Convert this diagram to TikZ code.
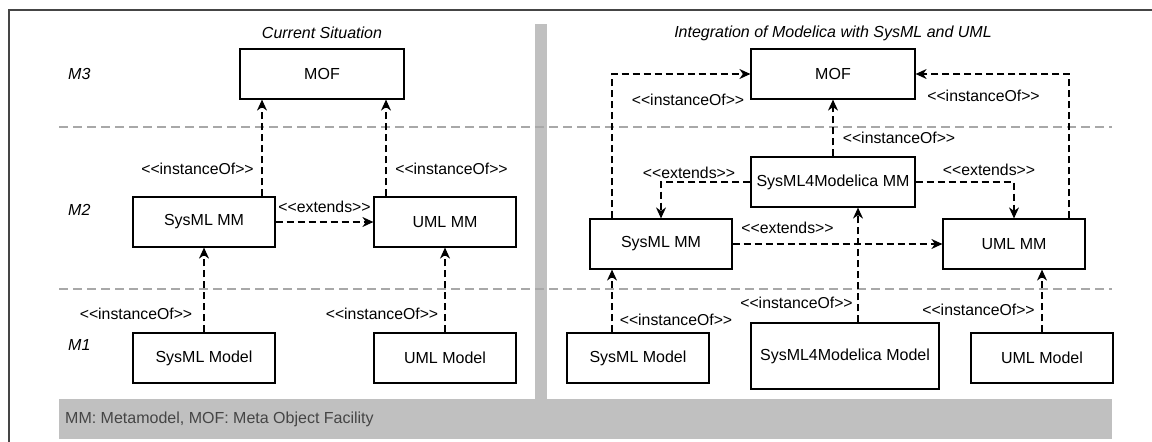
\documentclass[tikz,border=0pt]{standalone}
\usepackage{fontspec}
\newfontfamily\diafont{Liberation Sans}
\usetikzlibrary{arrows.meta}
\definecolor{bandgray}{HTML}{C0C0C0}
\definecolor{levelgray}{HTML}{A8A8A8}
\definecolor{framegray}{HTML}{454545}

\tikzset{
  mbox/.style={draw, line width=1.2pt, fill=white, inner sep=0pt,
    minimum width=142pt, minimum height=50pt,
    font=\diafont\fontsize{16}{19}\selectfont},
  stereo/.style={inner sep=0pt, font=\diafont\fontsize{15.8}{18}\selectfont},
  level/.style={inner sep=0pt, anchor=west, font=\diafont\itshape\fontsize{16}{19}\selectfont},
  dep/.style={line width=1.2pt, dash pattern=on 7pt off 4pt,
    -{Stealth[length=11pt,width=10pt,inset=3.5pt]}},
  levelline/.style={levelgray, line width=1.3pt, dash pattern=on 9pt off 5pt},
}

\begin{document}
\begin{tikzpicture}[x=1pt, y=-1pt]
    \useasboundingbox (0,0) rectangle (1152,442);

    % Frame, divider and legend band
    \draw[framegray, line width=1.6pt] (9,442) -- (9,10) -- (1152,10);
    \fill[bandgray] (535,24) rectangle (547,399);
    \fill[bandgray] (59,399) rectangle (1112,439);
    \node[anchor=west, inner sep=0pt, text=framegray,
      font=\diafont\fontsize{16}{19}\selectfont] (legend) at (65,419)
      {MM: Metamodel, MOF: Meta Object Facility};

    % Meta levels
    \draw[levelline] (59,127) -- (1112,127);
    \draw[levelline] (59,289) -- (1112,289);
    \node[level] (m3) at (68,74) {M3};
    \node[level] (m2) at (68,210) {M2};
    \node[level] (m1) at (68,345) {M1};

    % Titles
    \node[level, anchor=center] (titleL) at (322,33) {Current Situation};
    \node[level, anchor=center] (titleR) at (833,33) {Integration of Modelica with SysML and UML};

    % Current situation
    \node[mbox, minimum width=164pt] (mofL) at (322,74) {MOF};
    \node[mbox] (smmL) at (204,222) {SysML MM};
    \node[mbox] (ummL) at (445,222) {UML MM};
    \node[mbox] (smodL) at (204,358) {SysML Model};
    \node[mbox] (umodL) at (445,358) {UML Model};

    % Integration of Modelica
    \node[mbox, minimum width=164pt] (mofR) at (833,74) {MOF};
    \node[mbox, minimum width=164pt] (s4mm) at (833,182) {SysML4Modelica MM};
    \node[mbox] (smmR) at (661,244) {SysML MM};
    \node[mbox] (ummR) at (1014,244) {UML MM};
    \node[mbox] (smodR) at (638,358) {SysML Model};
    \node[mbox, minimum width=188pt, minimum height=66pt] (s4mod) at (845,356) {SysML4Modelica Model};
    \node[mbox] (umodR) at (1042,358) {UML Model};

    % x positions of the off-centre connectors
    \coordinate (xsl) at (262,0);
    \coordinate (xul) at (386,0);
    \coordinate (xsr) at (612,0);
    \coordinate (xur) at (1069,0);
    \coordinate (xmr) at (858,0);

    % Connectors, current situation
    \draw[dep] (smmL.north -| xsl) -- (mofL.south -| xsl);
    \draw[dep] (ummL.north -| xul) -- (mofL.south -| xul);
    \draw[dep] (smmL.east) -- (ummL.west);
    \draw[dep] (smodL) -- (smmL);
    \draw[dep] (umodL) -- (ummL);

    % Connectors, integration
    \draw[dep] (smmR.north -| xsr) |- (mofR.west);
    \draw[dep] (ummR.north -| xur) |- (mofR.east);
    \draw[dep] (s4mm) -- (mofR);
    \draw[dep] (s4mm.west) -| (smmR.north);
    \draw[dep] (s4mm.east) -| (ummR.north);
    \draw[dep] (smmR.east) -- (ummR.west);
    \draw[dep] (smodR.north -| xsr) -- (smmR.south -| xsr);
    \draw[dep] (s4mod.north -| xmr) -- (s4mm.south -| xmr);
    \draw[dep] (umodR) -- (ummR.south -| umodR.north);

    % Stereotype labels
    \node[stereo] (ioL1) at (197.5,169) {<<instanceOf>>};
    \node[stereo] (ioL2) at (451.5,169) {<<instanceOf>>};
    \node[stereo] (exL) at (324.5,207) {<<extends>>};
    \node[stereo] (ioL3) at (136,314) {<<instanceOf>>};
    \node[stereo] (ioL4) at (382,314) {<<instanceOf>>};
    \node[stereo] (ioR1) at (688,100) {<<instanceOf>>};
    \node[stereo] (ioR2) at (983.5,96) {<<instanceOf>>};
    \node[stereo] (ioR3) at (899,138) {<<instanceOf>>};
    \node[stereo] (exR1) at (689,173) {<<extends>>};
    \node[stereo] (exR2) at (989,170) {<<extends>>};
    \node[stereo] (exR3) at (787.5,228) {<<extends>>};
    \node[stereo] (ioR4) at (796.5,303) {<<instanceOf>>};
    \node[stereo] (ioR5) at (676,320) {<<instanceOf>>};
    \node[stereo] (ioR6) at (978.5,310) {<<instanceOf>>};
\end{tikzpicture}
\end{document}
